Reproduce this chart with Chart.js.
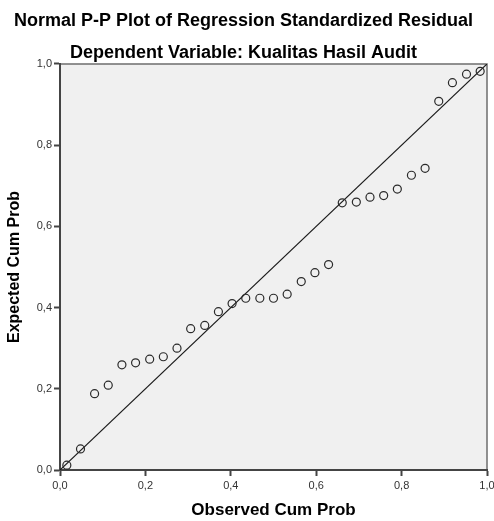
<!DOCTYPE html>
<html>
<head>
<meta charset="utf-8">
<script src="https://cdn.jsdelivr.net/npm/chart.js@4.4.1/dist/chart.umd.min.js"></script>
<style>
  html, body { margin: 0; padding: 0; background: #fff; }
  #wrap { width: 494px; height: 521px; }
</style>
</head>
<body>
<div id="wrap"><canvas id="pp-plot" width="494" height="521"></canvas></div>
<script>
// observed cumulative probability, (i - 0.5) / 31 for the 31 residuals
var observedProb = [0.016, 0.048, 0.081, 0.113, 0.145, 0.177, 0.210, 0.242, 0.274, 0.306,
                    0.339, 0.371, 0.403, 0.435, 0.468, 0.500, 0.532, 0.565, 0.597, 0.629,
                    0.661, 0.694, 0.726, 0.758, 0.790, 0.823, 0.855, 0.887, 0.919, 0.952, 0.984];
// expected cumulative probability
var expectedProb = [0.012, 0.052, 0.188, 0.209, 0.259, 0.264, 0.273, 0.279, 0.300, 0.348,
                    0.356, 0.390, 0.410, 0.423, 0.423, 0.423, 0.433, 0.464, 0.486, 0.506,
                    0.658, 0.660, 0.672, 0.676, 0.692, 0.726, 0.743, 0.908, 0.954, 0.975, 0.982];
var refLine = [0, 1];
var tickValues = [0, 0.2, 0.4, 0.6, 0.8, 1.0];

var points = observedProb.map(function (x, i) { return { x: x, y: expectedProb[i] }; });
var diag = refLine.map(function (v) { return { x: v, y: v }; });

var fontFamily = "'Liberation Sans', Arial, sans-serif";

// grey plot background and the thin frame on top/right
var plotFrame = {
    id: 'plotFrame',
    beforeDraw: function (chart) {
        var a = chart.chartArea, ctx = chart.ctx;
        ctx.save();
        ctx.fillStyle = '#f0f0f0';
        ctx.fillRect(a.left, a.top, a.right - a.left, a.bottom - a.top);
        ctx.strokeStyle = '#6e6e6e';
        ctx.lineWidth = 1.5;
        ctx.beginPath();
        ctx.moveTo(a.left, a.top);
        ctx.lineTo(a.right, a.top);
        ctx.lineTo(a.right, a.bottom);
        ctx.stroke();
        ctx.restore();
    }
};

function commaTick(value) {
    return value.toFixed(1).replace('.', ',');
}

var ctx = document.getElementById("pp-plot").getContext("2d");
var chart = new Chart(ctx, {
    type: "scatter",
    data: {
        datasets: [
            {
                type: "line",
                data: diag,
                borderColor: "#1a1a1a",
                borderWidth: 1.2,
                pointRadius: 0,
                fill: false,
                order: 2
            },
            {
                data: points,
                pointStyle: "circle",
                pointRadius: 4,
                pointBackgroundColor: "rgba(0,0,0,0)",
                pointBorderColor: "#2a2a2a",
                pointBorderWidth: 1.2,
                order: 1
            }
        ]
    },
    options: {
        responsive: false,
        animation: false,
        layout: { padding: { left: 0, right: 7, top: 0, bottom: 0 } },
        plugins: {
            legend: { display: false },
            tooltip: { enabled: false },
            title: {
                display: true,
                text: "Normal P-P Plot of Regression Standardized Residual",
                color: "#000",
                font: { family: fontFamily, size: 18, weight: "bold" },
                padding: { top: 10.2, bottom: 2 }
            },
            subtitle: {
                display: true,
                text: "Dependent Variable: Kualitas Hasil Audit",
                color: "#000",
                font: { family: fontFamily, size: 18, weight: "bold" },
                padding: { top: 8.4, bottom: 0.2 }
            }
        },
        scales: {
            x: {
                type: "linear",
                min: 0,
                max: 1,
                afterBuildTicks: function (scale) {
                    scale.ticks = tickValues.map(function (v) { return { value: v }; });
                },
                afterFit: function (scale) {
                    scale.height = 51;
                    scale.paddingRight = 0;
                    scale.paddingLeft = 0;
                },
                ticks: {
                    callback: commaTick,
                    color: "#333",
                    padding: 3,
                    maxRotation: 0,
                    font: { family: fontFamily, size: 11 }
                },
                grid: {
                    drawOnChartArea: false,
                    drawTicks: true,
                    tickLength: 6,
                    tickWidth: 2,
                    color: "#444"
                },
                border: { color: "#444", width: 2 },
                title: {
                    display: true,
                    text: "Observed Cum Prob",
                    color: "#000",
                    font: { family: fontFamily, size: 17, weight: "bold" },
                    padding: { top: 0, bottom: 0 }
                }
            },
            y: {
                type: "linear",
                min: 0,
                max: 1,
                afterBuildTicks: function (scale) {
                    scale.ticks = tickValues.map(function (v) { return { value: v }; });
                },
                afterFit: function (scale) {
                    scale.width = 60;
                    scale.paddingTop = 0;
                    scale.paddingBottom = 0;
                },
                ticks: {
                    callback: commaTick,
                    color: "#333",
                    padding: 2,
                    font: { family: fontFamily, size: 11 }
                },
                grid: {
                    drawOnChartArea: false,
                    drawTicks: true,
                    tickLength: 6,
                    tickWidth: 2,
                    color: "#444"
                },
                border: { color: "#444", width: 2 },
                title: {
                    display: true,
                    text: "Expected Cum Prob",
                    color: "#000",
                    font: { family: fontFamily, size: 16, weight: "bold" },
                    padding: { top: 5.4, bottom: 0 }
                }
            }
        }
    },
    plugins: [plotFrame]
});
</script>
</body>
</html>
